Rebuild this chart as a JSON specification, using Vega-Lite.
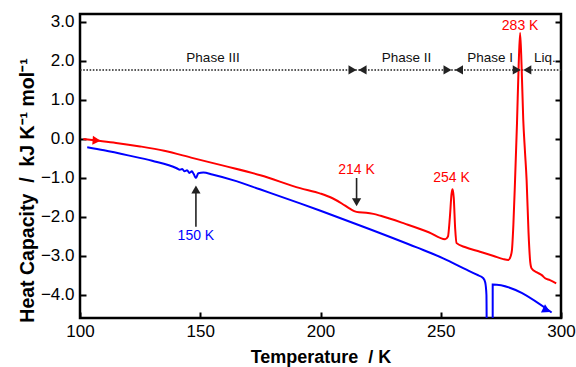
{
  "$schema": "https://vega.github.io/schema/vega-lite/v6.json",
  "width": 481,
  "height": 304,
  "autosize": {"type": "none"},
  "padding": {"left": 80, "top": 14, "right": 15, "bottom": 49},
  "config": {
    "view": {"stroke": "black", "strokeWidth": 2.5},
    "font": "Liberation Sans",
    "axis": {
      "domain": false,
      "grid": false,
      "tickColor": "black",
      "tickWidth": 2,
      "tickSize": -6,
      "labelFont": "Liberation Sans",
      "labelFontSize": 17,
      "labelColor": "black",
      "titleFont": "Liberation Sans",
      "titleFontSize": 18,
      "titleFontWeight": "bold",
      "titleColor": "black"
    }
  },
  "datasets": {
    "curves": [
      {"series": "heating", "i": 1, "T": 101.4, "Cp": 0.0},
      {"series": "heating", "i": 2, "T": 106.9, "Cp": -0.04},
      {"series": "heating", "i": 3, "T": 115, "Cp": -0.1},
      {"series": "heating", "i": 4, "T": 125, "Cp": -0.19},
      {"series": "heating", "i": 5, "T": 135, "Cp": -0.3},
      {"series": "heating", "i": 6, "T": 147, "Cp": -0.49},
      {"series": "heating", "i": 7, "T": 160, "Cp": -0.69},
      {"series": "heating", "i": 8, "T": 175, "Cp": -0.93},
      {"series": "heating", "i": 9, "T": 191.5, "Cp": -1.26},
      {"series": "heating", "i": 10, "T": 200, "Cp": -1.4},
      {"series": "heating", "i": 11, "T": 205, "Cp": -1.52},
      {"series": "heating", "i": 12, "T": 209, "Cp": -1.66},
      {"series": "heating", "i": 13, "T": 212, "Cp": -1.78},
      {"series": "heating", "i": 14, "T": 214, "Cp": -1.85},
      {"series": "heating", "i": 15, "T": 216, "Cp": -1.88},
      {"series": "heating", "i": 16, "T": 219, "Cp": -1.89},
      {"series": "heating", "i": 17, "T": 222, "Cp": -1.92},
      {"series": "heating", "i": 18, "T": 225, "Cp": -1.97},
      {"series": "heating", "i": 19, "T": 235, "Cp": -2.17},
      {"series": "heating", "i": 20, "T": 245, "Cp": -2.39},
      {"series": "heating", "i": 21, "T": 251.8, "Cp": -2.57},
      {"series": "heating", "i": 22, "T": 253, "Cp": -2.5},
      {"series": "heating", "i": 23, "T": 253.8, "Cp": -2.0},
      {"series": "heating", "i": 24, "T": 254.5, "Cp": -1.4},
      {"series": "heating", "i": 25, "T": 254.9, "Cp": -1.29},
      {"series": "heating", "i": 26, "T": 255.4, "Cp": -1.5},
      {"series": "heating", "i": 27, "T": 256, "Cp": -2.3},
      {"series": "heating", "i": 28, "T": 256.6, "Cp": -2.67},
      {"series": "heating", "i": 29, "T": 260, "Cp": -2.77},
      {"series": "heating", "i": 30, "T": 266.3, "Cp": -2.89},
      {"series": "heating", "i": 31, "T": 272, "Cp": -3.0},
      {"series": "heating", "i": 32, "T": 276, "Cp": -3.08},
      {"series": "heating", "i": 33, "T": 278.1, "Cp": -3.1},
      {"series": "heating", "i": 34, "T": 279.0, "Cp": -3.02},
      {"series": "heating", "i": 35, "T": 279.6, "Cp": -2.85},
      {"series": "heating", "i": 36, "T": 280.2, "Cp": -2.2},
      {"series": "heating", "i": 37, "T": 280.9, "Cp": -1.05},
      {"series": "heating", "i": 38, "T": 281.7, "Cp": 0.4},
      {"series": "heating", "i": 39, "T": 282.4, "Cp": 1.9},
      {"series": "heating", "i": 40, "T": 283.0, "Cp": 2.72},
      {"series": "heating", "i": 41, "T": 283.6, "Cp": 1.9},
      {"series": "heating", "i": 42, "T": 284.3, "Cp": 0.5},
      {"series": "heating", "i": 43, "T": 285.0, "Cp": -0.3},
      {"series": "heating", "i": 44, "T": 285.7, "Cp": -1.05},
      {"series": "heating", "i": 45, "T": 286.5, "Cp": -2.4},
      {"series": "heating", "i": 46, "T": 287.2, "Cp": -3.15},
      {"series": "heating", "i": 47, "T": 287.8, "Cp": -3.32},
      {"series": "heating", "i": 48, "T": 290, "Cp": -3.42},
      {"series": "heating", "i": 49, "T": 292, "Cp": -3.49},
      {"series": "heating", "i": 50, "T": 293.4, "Cp": -3.57},
      {"series": "heating", "i": 51, "T": 295.4, "Cp": -3.62},
      {"series": "heating", "i": 52, "T": 298, "Cp": -3.7},
      {"series": "cooling", "i": 1, "T": 103, "Cp": -0.21},
      {"series": "cooling", "i": 2, "T": 110, "Cp": -0.29},
      {"series": "cooling", "i": 3, "T": 120, "Cp": -0.42},
      {"series": "cooling", "i": 4, "T": 130, "Cp": -0.56},
      {"series": "cooling", "i": 5, "T": 140.2, "Cp": -0.75},
      {"series": "cooling", "i": 6, "T": 141.5, "Cp": -0.79},
      {"series": "cooling", "i": 7, "T": 142.5, "Cp": -0.77},
      {"series": "cooling", "i": 8, "T": 143.5, "Cp": -0.83},
      {"series": "cooling", "i": 9, "T": 144.5, "Cp": -0.8},
      {"series": "cooling", "i": 10, "T": 145.5, "Cp": -0.87},
      {"series": "cooling", "i": 11, "T": 146.5, "Cp": -0.83},
      {"series": "cooling", "i": 12, "T": 147.3, "Cp": -0.9},
      {"series": "cooling", "i": 13, "T": 148.2, "Cp": -1.0},
      {"series": "cooling", "i": 14, "T": 149.2, "Cp": -0.88},
      {"series": "cooling", "i": 15, "T": 151.3, "Cp": -0.86},
      {"series": "cooling", "i": 16, "T": 155, "Cp": -0.91},
      {"series": "cooling", "i": 17, "T": 165, "Cp": -1.08},
      {"series": "cooling", "i": 18, "T": 174.8, "Cp": -1.29},
      {"series": "cooling", "i": 19, "T": 191.5, "Cp": -1.65},
      {"series": "cooling", "i": 20, "T": 200, "Cp": -1.84},
      {"series": "cooling", "i": 21, "T": 220, "Cp": -2.3},
      {"series": "cooling", "i": 22, "T": 240, "Cp": -2.78},
      {"series": "cooling", "i": 23, "T": 251, "Cp": -3.06},
      {"series": "cooling", "i": 24, "T": 260, "Cp": -3.33},
      {"series": "cooling", "i": 25, "T": 265, "Cp": -3.48},
      {"series": "cooling", "i": 26, "T": 267.7, "Cp": -3.57},
      {"series": "cooling", "i": 27, "T": 268.5, "Cp": -3.68},
      {"series": "cooling", "i": 28, "T": 269.0, "Cp": -4.0},
      {"series": "cooling", "i": 29, "T": 269.2, "Cp": -5.5},
      {"series": "cooling", "i": 30, "T": 271.6, "Cp": -5.5},
      {"series": "cooling", "i": 31, "T": 271.6, "Cp": -3.73},
      {"series": "cooling", "i": 32, "T": 296.1, "Cp": -4.45}
    ],
    "phaseArrows": [
      {"T": 213.3, "Cp": 1.77, "shape": "triangle-right"},
      {"T": 217.5, "Cp": 1.77, "shape": "triangle-left"},
      {"T": 252.8, "Cp": 1.77, "shape": "triangle-right"},
      {"T": 257.6, "Cp": 1.77, "shape": "triangle-left"},
      {"T": 281.6, "Cp": 1.77, "shape": "triangle-right"},
      {"T": 286.0, "Cp": 1.77, "shape": "triangle-left"}
    ],
    "phaseLabels": [
      {"T": 155.3, "Cp": 2.08, "label": "Phase III"},
      {"T": 235.8, "Cp": 2.08, "label": "Phase II"},
      {"T": 270.5, "Cp": 2.08, "label": "Phase I"},
      {"T": 293.3, "Cp": 2.08, "label": "Liq."}
    ],
    "peakLabels": [
      {"T": 283.0, "Cp": 2.9, "label": "283 K", "color": "#ff0000"},
      {"T": 254.5, "Cp": -1.01, "label": "254 K", "color": "#ff0000"},
      {"T": 215.0, "Cp": -0.79, "label": "214 K", "color": "#ff0000"},
      {"T": 148.2, "Cp": -2.5, "label": "150 K", "color": "#0000ff"}
    ],
    "pointerLines": [
      {"T": 215.0, "y1": -1.0, "y2": -1.6},
      {"T": 148.2, "y1": -1.32, "y2": -2.25}
    ],
    "pointerHeads": [
      {"T": 215.0, "Cp": -1.625, "shape": "triangle-down"},
      {"T": 148.2, "Cp": -1.295, "shape": "triangle-up"}
    ],
    "dirArrows": [
      {"T": 106.9, "Cp": -0.04, "color": "#ff0000", "angle": 4},
      {"T": 294.0, "Cp": -4.39, "color": "#0000ff", "angle": 26}
    ],
    "phaseLine": [{"T": 100, "T2": 300, "Cp": 1.77}]
  },
  "resolve": {"axis": {"y": "independent"}},
  "layer": [
    {
      "layer": [
        {
          "data": {"name": "phaseLine"},
          "mark": {"type": "rule", "color": "#222222", "strokeWidth": 1.6, "strokeDash": [1.6, 1.6]},
          "encoding": {
            "x": {"field": "T", "type": "quantitative", "scale": {"domain": [100, 300], "nice": false, "zero": false},
              "axis": {"title": "Temperature\u00a0 / K", "values": [100, 150, 200, 250, 300], "labelPadding": 11, "labelFlush": false, "titleY": 44, "titleBaseline": "alphabetic"}},
            "x2": {"field": "T2"},
            "y": {"field": "Cp", "type": "quantitative", "scale": {"domain": [-4.59, 3.205], "nice": false, "zero": false},
              "axis": {"title": "Heat Capacity\u00a0 /\u00a0 kJ K⁻¹ mol⁻¹", "titleFontSize": 19.5, "values": [-4, -3, -2, -1, 0, 1, 2, 3], "format": ".1f", "labelPadding": 12, "titleX": -47, "titleY": 176, "titleAngle": -90, "titleBaseline": "alphabetic", "titleAlign": "center"}}
          }
        },
        {
          "data": {"name": "phaseLabels"},
          "mark": {"type": "text", "fontSize": 13.5, "color": "#111111", "font": "Liberation Sans"},
          "encoding": {
            "x": {"field": "T", "type": "quantitative"},
            "y": {"field": "Cp", "type": "quantitative"},
            "text": {"field": "label"}
          }
        },
        {
          "data": {"name": "curves"},
          "mark": {"type": "line", "strokeWidth": 2, "clip": true, "interpolate": "monotone"},
          "encoding": {
            "x": {"field": "T", "type": "quantitative"},
            "y": {"field": "Cp", "type": "quantitative"},
            "color": {"field": "series", "type": "nominal", "scale": {"domain": ["heating", "cooling"], "range": ["#ff0000", "#0000ff"]}, "legend": null},
            "order": {"field": "i", "type": "quantitative"}
          }
        },
        {
          "data": {"name": "dirArrows"},
          "mark": {"type": "point", "filled": true, "shape": "triangle-right", "size": 85, "opacity": 1},
          "encoding": {
            "x": {"field": "T", "type": "quantitative"},
            "y": {"field": "Cp", "type": "quantitative"},
            "color": {"field": "color", "type": "nominal", "scale": null},
            "angle": {"field": "angle", "type": "quantitative", "scale": null}
          }
        },
        {
          "data": {"name": "pointerLines"},
          "mark": {"type": "rule", "color": "#222222", "strokeWidth": 1.6},
          "encoding": {
            "x": {"field": "T", "type": "quantitative"},
            "y": {"field": "y1", "type": "quantitative"},
            "y2": {"field": "y2"}
          }
        },
        {
          "data": {"name": "pointerHeads"},
          "mark": {"type": "point", "filled": true, "color": "#222222", "size": 85, "opacity": 1},
          "encoding": {
            "x": {"field": "T", "type": "quantitative"},
            "y": {"field": "Cp", "type": "quantitative"},
            "shape": {"field": "shape", "type": "nominal", "scale": null}
          }
        },
        {
          "data": {"name": "peakLabels"},
          "mark": {"type": "text", "fontSize": 14, "font": "Liberation Sans"},
          "encoding": {
            "x": {"field": "T", "type": "quantitative"},
            "y": {"field": "Cp", "type": "quantitative"},
            "text": {"field": "label"},
            "color": {"field": "color", "type": "nominal", "scale": null}
          }
        }
      ]
    },
    {
      "data": {"name": "phaseArrows"},
      "mark": {"type": "point", "filled": true, "color": "#222222", "size": 85, "opacity": 1},
      "encoding": {
        "x": {"field": "T", "type": "quantitative"},
        "y": {"field": "Cp", "type": "quantitative", "axis": {"orient": "right", "labels": false, "title": null, "values": [-4, -3, -2, -1, 0, 1, 2, 3]}},
        "shape": {"field": "shape", "type": "nominal", "scale": null}
      }
    }
  ]
}
